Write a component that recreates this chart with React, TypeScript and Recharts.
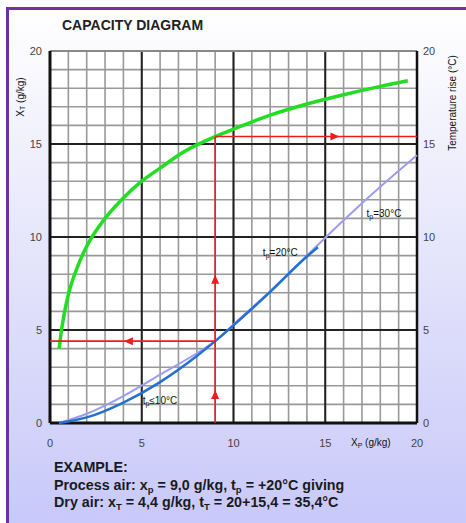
import React from "react"
import {
  ComposedChart,
  Line,
  Scatter,
  XAxis,
  YAxis,
  CartesianGrid,
  ReferenceLine,
  Label,
} from "recharts"

// tick positions
const GRID_TICKS = [0, 1, 2, 3, 4, 5, 6, 7, 8, 9, 10, 11, 12, 13, 14, 15, 16, 17, 18, 19, 20]
const MAJOR_LINES = [5, 10, 15]

// temperature rise curve (right axis)
const RISE_X = [0.5, 0.6, 0.8, 1, 1.5, 2, 3, 4, 5, 6, 7, 8, 9, 10, 12, 14, 16, 18, 19.5]
const RISE_Y = [4.0, 4.8, 6.0, 6.9, 8.4, 9.5, 11.0, 12.1, 13.0, 13.7, 14.4, 14.95, 15.4, 15.8, 16.55, 17.15, 17.65, 18.1, 18.4]

// tp = 30°C
const T30_X = [0.5, 2, 4, 6, 8, 9, 10, 12, 14, 16, 18, 20]
const T30_Y = [0, 0.5, 1.45, 2.6, 3.75, 4.4, 5.3, 7.1, 9.0, 10.9, 12.7, 14.4]

// tp <= 10°C .. tp = 20°C
const T20_X = [0.5, 2, 4, 6, 8, 9, 10, 12, 14, 14.6]
const T20_Y = [0, 0.3, 1.1, 2.2, 3.6, 4.4, 5.25, 7.05, 8.95, 9.45]

// example construction
const EX_XP = 9.0
const EX_XT = 4.4
const EX_RISE = 15.4

const ARROWS = [
  { x: 9, y: 1.5, dir: "up" },
  { x: 9, y: 7.7, dir: "up" },
  { x: 4.3, y: 4.4, dir: "left" },
  { x: 15.5, y: 15.4, dir: "right" },
]

const CURVE_LABELS = [
  { x: 5.05, y: 1.0, rel: "≤10°C" },
  { x: 11.6, y: 9.0, rel: "=20°C" },
  { x: 17.25, y: 11.05, rel: "=30°C" },
]

const zip = (xs: number[], ys: number[]) => xs.map((x, i) => ({ x, y: ys[i] }))

const riseData = zip(RISE_X, RISE_Y)
const t30Data = zip(T30_X, T30_Y)
const t20Data = zip(T20_X, T20_Y)
const redUp = [{ x: EX_XP, y: 0 }, { x: EX_XP, y: EX_RISE }]
const redLeft = [{ x: 0, y: EX_XT }, { x: EX_XP, y: EX_XT }]
const redRight = [{ x: EX_XP, y: EX_RISE }, { x: 20, y: EX_RISE }]

const FONT = '"Liberation Sans", Arial, sans-serif'
const RED = "#ee1c1c"
const TICK = { fill: "#444", fontSize: 11, fontFamily: FONT }

function Arrow(props: any) {
  const { cx, cy, payload } = props
  const s = 4
  let pts = ""
  if (payload.dir === "up") pts = `${cx - s},${cy + s} ${cx + s},${cy + s} ${cx},${cy - s - 1}`
  if (payload.dir === "left") pts = `${cx + s},${cy - s} ${cx + s},${cy + s} ${cx - s - 1},${cy}`
  if (payload.dir === "right") pts = `${cx - s},${cy - s} ${cx - s},${cy + s} ${cx + s + 1},${cy}`
  return <polygon points={pts} fill={RED} />
}

function CurveLabel(props: any) {
  const { cx, cy, payload } = props
  return (
    <text x={cx} y={cy} fontSize={10} fontFamily={FONT} fill="#111">
      t<tspan fontSize={7} dy={2}>p</tspan>
      <tspan dy={-2}>{payload.rel}</tspan>
    </text>
  )
}

const LeftTitle = (props: any) => {
  const { x, y } = props.viewBox
  const cx = x
  const cy = y + 46
  return (
    <text x={cx} y={cy} transform={`rotate(-90, ${cx}, ${cy})`} textAnchor="middle" fontSize={10} fontFamily={FONT} fill="#111" dominantBaseline="central">
      X<tspan fontSize={7} dy={2}>T</tspan>
      <tspan dy={-2}> (g/kg)</tspan>
    </text>
  )
}

const RightTitle = (props: any) => {
  const { x, y } = props.viewBox
  const cx = x + 35
  const cy = y + 52
  return (
    <text x={cx} y={cy} transform={`rotate(-90, ${cx}, ${cy})`} textAnchor="middle" fontSize={10} fontFamily={FONT} fill="#111" dominantBaseline="central">
      Temperature rise (°C)
    </text>
  )
}

const BottomTitle = (props: any) => {
  const { x, y } = props.viewBox
  return (
    <text x={x + 301} y={y + 23} fontSize={10} fontFamily={FONT} fill="#111">
      X<tspan fontSize={7} dy={2}>P</tspan>
      <tspan dy={-2}> (g/kg)</tspan>
    </text>
  )
}

const textLine: React.CSSProperties = {
  fontFamily: FONT,
  fontWeight: "bold",
  fontSize: 14.3,
  color: "#1a1a1a",
  lineHeight: "17.5px",
  whiteSpace: "nowrap",
}

const sub: React.CSSProperties = { fontSize: 9.5, verticalAlign: "-3px", lineHeight: 0 }

export default function App() {
  return (
    <div style={{ position: "absolute", left: 0, top: 0, width: 466, height: 523, overflow: "hidden" }}>
      <div
        style={{
          position: "absolute",
          left: 6,
          top: 7,
          width: 460,
          height: 516,
          borderLeft: "3px solid #7030a0",
          borderTop: "3px solid #7030a0",
          background: "linear-gradient(to bottom, #ffffff 0%, #e6e6fb 45%, #c8c8fa 100%)",
        }}
      />
      <div style={{ position: "absolute", left: 62, top: 17, fontFamily: FONT, fontWeight: "bold", fontSize: 14, color: "#222" }}>
        CAPACITY DIAGRAM
      </div>

      <div style={{ position: "absolute", left: 0, top: 0 }}>
        <ComposedChart width={466} height={460} margin={{ top: 51, right: 19, bottom: 7, left: 20 }}>
          <CartesianGrid yAxisId="left" stroke="#999" strokeWidth={1.6} fill="#ffffff" fillOpacity={1} />
          <XAxis
            type="number"
            dataKey="x"
            domain={[0, 20]}
            ticks={GRID_TICKS}
            interval={0}
            tickFormatter={(v: number) => (v % 5 === 0 ? String(v) : "")}
            axisLine={false}
            tickLine={false}
            tickMargin={10}
            height={30}
            tick={TICK}
          >
            <Label content={BottomTitle} />
          </XAxis>
          <YAxis
            yAxisId="left"
            type="number"
            domain={[0, 20]}
            ticks={GRID_TICKS}
            interval={0}
            tickFormatter={(v: number) => (v % 5 === 0 ? String(v) : "")}
            axisLine={false}
            tickLine={false}
            width={30}
            tick={TICK}
          >
            <Label content={LeftTitle} />
          </YAxis>
          <YAxis
            yAxisId="right"
            orientation="right"
            type="number"
            domain={[0, 20]}
            ticks={GRID_TICKS}
            interval={0}
            tickFormatter={(v: number) => (v % 5 === 0 ? String(v) : "")}
            axisLine={false}
            tickLine={false}
            tickSize={4}
            width={30}
            tick={TICK}
          >
            <Label content={RightTitle} />
          </YAxis>

          {MAJOR_LINES.map((v) => (
            <ReferenceLine key={"x" + v} x={v} yAxisId="left" stroke="#222" strokeWidth={2} />
          ))}
          {MAJOR_LINES.map((v) => (
            <ReferenceLine key={"y" + v} y={v} yAxisId="left" stroke="#222" strokeWidth={2} />
          ))}
          <ReferenceLine y={20} yAxisId="left" stroke="#888" strokeWidth={2} />
          <ReferenceLine x={0} yAxisId="left" stroke="#111" strokeWidth={3} />
          <ReferenceLine x={20} yAxisId="left" stroke="#111" strokeWidth={2.5} />
          <ReferenceLine y={0} yAxisId="left" stroke="#111" strokeWidth={3} />

          <Line yAxisId="right" data={riseData} dataKey="y" type="monotone" stroke="#22dd22" strokeWidth={3.5} dot={false} isAnimationActive={false} />
          <Line yAxisId="left" data={t30Data} dataKey="y" type="monotone" stroke="#9c9cf0" strokeWidth={2} dot={false} isAnimationActive={false} />
          <Line yAxisId="left" data={t20Data} dataKey="y" type="monotone" stroke="#2270d2" strokeWidth={2.5} dot={false} isAnimationActive={false} />
          <Line yAxisId="left" data={redUp} dataKey="y" type="linear" stroke={RED} strokeWidth={1.6} dot={false} isAnimationActive={false} />
          <Line yAxisId="left" data={redLeft} dataKey="y" type="linear" stroke={RED} strokeWidth={1.6} dot={false} isAnimationActive={false} />
          <Line yAxisId="right" data={redRight} dataKey="y" type="linear" stroke={RED} strokeWidth={1.6} dot={false} isAnimationActive={false} />
          <Scatter yAxisId="left" data={ARROWS} dataKey="y" shape={Arrow} isAnimationActive={false} />
          <Scatter yAxisId="left" data={CURVE_LABELS} dataKey="y" shape={CurveLabel} isAnimationActive={false} />
        </ComposedChart>
      </div>

      <div style={{ position: "absolute", left: 54, top: 459 }}>
        <div style={textLine}>EXAMPLE:</div>
        <div style={textLine}>
          Process air: x<span style={sub}>p</span> = 9,0 g/kg, t<span style={sub}>p</span> = +20°C giving
        </div>
        <div style={textLine}>
          Dry air: x<span style={sub}>T</span> = 4,4 g/kg, t<span style={sub}>T</span> = 20+15,4 = 35,4°C
        </div>
      </div>
    </div>
  )
}
